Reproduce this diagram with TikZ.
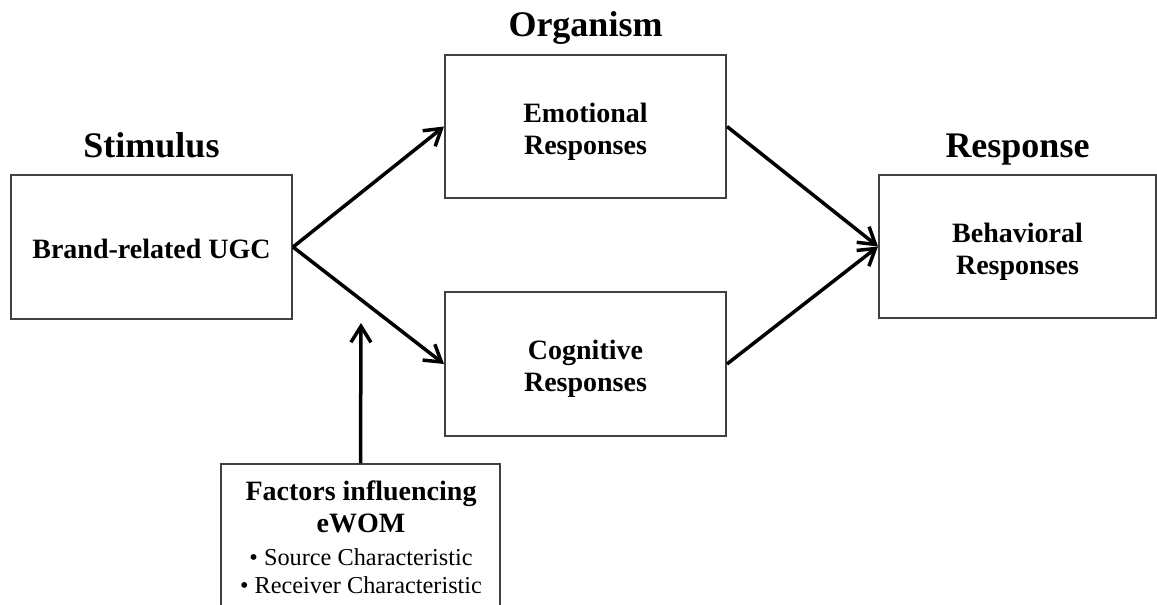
\documentclass[tikz,border=0pt]{standalone}
\usepackage{fontspec}
\setmainfont{Liberation Serif}
\usetikzlibrary{arrows.meta}
\begin{document}
\begin{tikzpicture}[x=1pt,y=-1pt,
  box/.style={draw=black!75, line width=2pt, inner sep=0pt},
  btxt/.style={align=center, inner sep=0pt, font=\bfseries\fontsize{28}{32}\selectfont},
  head/.style={anchor=base, font=\bfseries\fontsize{36}{40}\selectfont},
  ftitle/.style={anchor=base, inner sep=0pt, font=\bfseries\fontsize{28}{32}\selectfont},
  fitem/.style={anchor=base, inner sep=0pt, font=\fontsize{24.3}{30}\selectfont},
  conn/.style={line width=3.5pt, -{Straight Barb[length=16pt,width=20pt,line width=3.5pt]}}]
\clip (0,0) rectangle (1157,605);
\node[box, minimum width=281pt, minimum height=144pt] (ugc) at (151.5,247) {};
\node[box, minimum width=281pt, minimum height=143pt] (emo) at (585.5,126.5) {};
\node[box, minimum width=281pt, minimum height=144pt] (cog) at (585.5,364) {};
\node[box, minimum width=277pt, minimum height=143pt] (beh) at (1017.5,246.5) {};
\node[btxt] (ugct) at (151.5,248.5) {Brand-related UGC};
\node[btxt] (emot) at (585.5,131.5) {Emotional\\Responses};
\node[btxt] (cogt) at (585.5,368.5) {Cognitive\\Responses};
\node[btxt] (beht) at (1017.5,251.5) {Behavioral\\Responses};
\node[head] (stim) at (151.5,157) {Stimulus};
\node[head] (org) at (585.5,36) {Organism};
\node[head] (resp) at (1017.5,157) {Response};
\node[box, minimum width=279pt, minimum height=200pt, anchor=north] (fac) at (360.5,463) {};
\node[ftitle] (f1) at (361,500) {Factors influencing};
\node[ftitle] (f2) at (361,532) {eWOM};
\node[fitem] (f3) at (361,565) {\textbullet\ Source Characteristic};
\node[fitem] (f4) at (361,593) {\textbullet\ Receiver Characteristic};
\coordinate (mod) at (361,323);
\draw[conn] (ugc.east) -- (emo.west);
\draw[conn] (ugc.east) -- (cog.west);
\draw[conn] (emo.east) -- (beh.west);
\draw[conn] (cog.east) -- (beh.west);
\draw[conn] (fac.north) -- (mod);
\end{tikzpicture}
\end{document}
